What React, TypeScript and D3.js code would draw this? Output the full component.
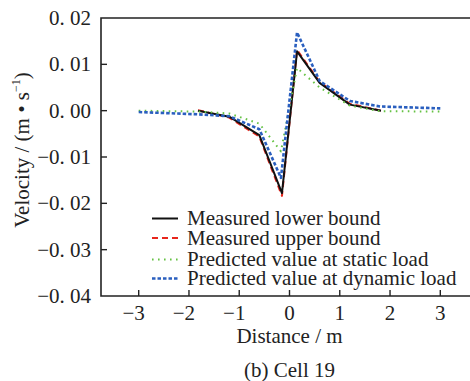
import React, { useEffect, useRef } from "react";
import * as d3 from "d3";

// distances (m) and velocities (m/s)
const measuredX = [-1.82, -1.2, -0.6, -0.15, 0.15, 0.6, 1.2, 1.82];
const lowerBound = [0, -0.0013, -0.0053, -0.0178, 0.0128, 0.006, 0.0013, 0.0];
const upperBound = [0.0001, -0.0015, -0.0056, -0.0184, 0.0131, 0.0062, 0.0015, 0.0];

const predictedX = [-3, -1.8, -1.2, -0.6, -0.17, 0.15, 0.6, 1.2, 1.8, 3];
const staticLoad = [0, -0.0002, -0.0006, -0.0028, -0.0088, 0.0092, 0.005, 0.0011, -0.0001, -0.0002];
const dynamicLoad = [-0.0003, -0.0008, -0.0012, -0.004, -0.0145, 0.0169, 0.0064, 0.0021, 0.0009, 0.0005];

const xTicks = [-3, -2, -1, 0, 1, 2, 3];
const yTicks = [0.02, 0.01, 0, -0.01, -0.02, -0.03, -0.04];

const seriesNames = [
  "Measured lower bound",
  "Measured upper bound",
  "Predicted value at static load",
  "Predicted value at dynamic load",
];

const W = 470;
const H = 381;
const FONT = "Liberation Serif, Times New Roman, Times, serif";
const FS = "21px";

const App = () => {
  const ref = useRef<SVGSVGElement>(null);

  useEffect(() => {
    const svg = d3.select(ref.current);
    svg.selectAll("*").remove();

    const x = d3.scaleLinear().domain([-3.75, 3.75]).range([101, 478]);
    const y = d3.scaleLinear().domain([-0.04, 0.02]).range([296, 18]);

    const g = svg.append("g").attr("font-family", FONT);

    const text = (tx: number, ty: number, anchor: string, s: string) =>
      g
        .append("text")
        .attr("x", tx)
        .attr("y", ty)
        .attr("text-anchor", anchor)
        .attr("font-family", FONT)
        .attr("font-size", FS)
        .attr("fill", "#222")
        .text(s);

    // frame: top, left, bottom
    g.append("path")
      .attr("d", `M${x(3.75)},${y(0.02)}H${x(-3.75)}V${y(-0.04)}H${x(3.75)}`)
      .attr("fill", "none")
      .attr("stroke", "#222")
      .attr("stroke-width", 1.6);

    // y ticks (inward)
    yTicks.forEach((t) => {
      if (t !== 0.02 && t !== -0.04) {
        g.append("line")
          .attr("x1", x(-3.75))
          .attr("x2", x(-3.75) + 6)
          .attr("y1", y(t))
          .attr("y2", y(t))
          .attr("stroke", "#222")
          .attr("stroke-width", 1.4);
      }
      const s = Math.abs(t).toFixed(2).replace(".", ". ");
      text(91, y(t) + 7, "end", (t < 0 ? "\u2212" : "") + s);
    });

    // x ticks (inward)
    xTicks.forEach((t) => {
      g.append("line")
        .attr("x1", x(t))
        .attr("x2", x(t))
        .attr("y1", y(-0.04))
        .attr("y2", y(-0.04) - 6)
        .attr("stroke", "#222")
        .attr("stroke-width", 1.4);
      text(x(t) + (t < 0 ? -5 : 0), 320, "middle", (t < 0 ? "\u2212" : "") + Math.abs(t));
    });

    text(x(0), 343, "middle", "Distance / m");
    text(x(0), 377, "middle", "(b) Cell 19");

    const yl = g
      .append("text")
      .attr("transform", `translate(29,150) rotate(-90)`)
      .attr("text-anchor", "middle")
      .attr("font-family", FONT)
      .attr("font-size", FS)
      .attr("fill", "#222");
    yl.append("tspan").text("Velocity / (m \u2022 s");
    yl.append("tspan").attr("dy", -9).attr("font-size", "12px").text("\u22121");
    yl.append("tspan").attr("dy", 9).text(")");

    const styles = [
      { color: "#111", dash: null, width: 2 },
      { color: "#e8261c", dash: "6,4", width: 2 },
      { color: "#66c244", dash: "1.6,4.4", width: 2 },
      { color: "#2a5fbf", dash: "3.5,2", width: 2.6 },
    ];

    const line = d3
      .line<[number, number]>()
      .x((d) => x(d[0]))
      .y((d) => y(d[1]));

    const series: [number, number][][] = [
      measuredX.map((d, i) => [d, lowerBound[i]]),
      measuredX.map((d, i) => [d, upperBound[i]]),
      predictedX.map((d, i) => [d, staticLoad[i]]),
      predictedX.map((d, i) => [d, dynamicLoad[i]]),
    ];

    [1, 0, 2, 3].forEach((k) => {
      g.append("path")
        .attr("d", line(series[k]))
        .attr("fill", "none")
        .attr("stroke", styles[k].color)
        .attr("stroke-width", styles[k].width)
        .attr("stroke-dasharray", styles[k].dash)
        .attr("stroke-linejoin", "round");
    });

    // legend
    const rows = [218.5, 238, 259.5, 278.5];
    seriesNames.forEach((name, i) => {
      g.append("line")
        .attr("x1", 152)
        .attr("x2", 178)
        .attr("y1", rows[i])
        .attr("y2", rows[i])
        .attr("stroke", styles[i].color)
        .attr("stroke-width", styles[i].width)
        .attr("stroke-dasharray", styles[i].dash);
      text(187, rows[i] + 6.5, "start", name);
    });
  }, []);

  return (
    <svg
      ref={ref}
      width={W}
      height={H}
      style={{ position: "absolute", left: 0, top: 0, background: "#fff" }}
    />
  );
};

export default App;
